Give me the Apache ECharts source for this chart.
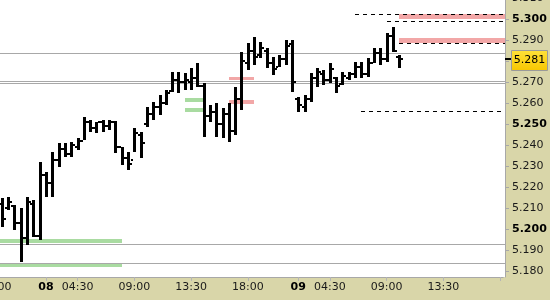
<!DOCTYPE html>
<html><head><meta charset="utf-8">
<script src="https://cdn.jsdelivr.net/npm/echarts@6/dist/echarts.min.js"></script>
<style>html,body{margin:0;padding:0;background:#fff}#c{width:550px;height:300px}</style>
</head><body><div id="c"></div>
<script>
// ---- data ----
const tickSlots  = [0, 8, 13, 22, 31, 40, 48, 53, 62, 71, 80];
const tickLabels = ['18:00','08','04:30','09:00','13:30','18:00','09','04:30','09:00','13:30',''];
const slotCount = 81; // slot 0 = previous day 18:00, bar j sits in slot j+1

const open  = [5.212,5.210,5.211,5.203,5.196,5.212,5.197,5.226,5.222,5.233,5.238,5.236,5.239,5.242,5.251,5.248,5.251,5.249,5.251,5.239,5.234,5.233,5.245,5.250,5.255,5.258,5.260,5.266,5.271,5.270,5.270,5.272,5.268,5.254,5.256,5.250,5.255,5.247,5.262,5.279,5.285,5.283,5.285,5.279,5.277,5.281,5.288,5.262,5.258,5.262,5.272,5.274,5.271,5.272,5.269,5.272,5.274,5.277,5.274,5.279,5.284,5.281,5.292,5.282];
const high  = [5.2149,5.2154,5.2116,5.2102,5.2154,5.2140,5.2320,5.2273,5.2368,5.2411,5.2411,5.2415,5.2434,5.2534,5.2520,5.2510,5.2520,5.2520,5.2515,5.2392,5.2368,5.2482,5.2463,5.2582,5.2606,5.2639,5.2663,5.2748,5.2748,5.2743,5.2767,5.2791,5.2696,5.2591,5.2601,5.2577,5.2601,5.2677,5.2843,5.2886,5.2914,5.2891,5.2862,5.2819,5.2829,5.2900,5.2900,5.2629,5.2639,5.2743,5.2767,5.2758,5.2791,5.2724,5.2748,5.2748,5.2796,5.2796,5.2815,5.2862,5.2862,5.2933,5.2962,5.2829];
const low   = [5.2011,5.2092,5.1997,5.1845,5.1926,5.1964,5.1950,5.2154,5.2154,5.2297,5.2344,5.2344,5.2377,5.2425,5.2463,5.2458,5.2463,5.2472,5.2363,5.2306,5.2282,5.2368,5.2339,5.2487,5.2520,5.2544,5.2591,5.2653,5.2648,5.2663,5.2663,5.2677,5.2439,5.2510,5.2439,5.2434,5.2415,5.2449,5.2567,5.2758,5.2781,5.2815,5.2767,5.2734,5.2772,5.2781,5.2653,5.2558,5.2558,5.2606,5.2677,5.2686,5.2696,5.2648,5.2686,5.2710,5.2720,5.2720,5.2724,5.2791,5.2781,5.2796,5.2843,5.2767];
const close = [5.205,5.213,5.203,5.196,5.213,5.197,5.226,5.222,5.233,5.238,5.236,5.240,5.242,5.251,5.248,5.251,5.249,5.251,5.239,5.234,5.231,5.246,5.241,5.255,5.258,5.260,5.265,5.271,5.270,5.271,5.272,5.268,5.254,5.256,5.250,5.255,5.247,5.262,5.280,5.285,5.282,5.286,5.279,5.276,5.281,5.287,5.270,5.259,5.262,5.272,5.275,5.271,5.276,5.268,5.273,5.274,5.277,5.274,5.279,5.284,5.281,5.292,5.285,5.281];

const solidLevels  = [5.2837, 5.2705, 5.2697, 5.1929, 5.1839];
// [start bar, level]  (lines run to the right edge)
const dashedLevels = [[56, 5.3022], [61, 5.2992], [63, 5.2887], [57, 5.2563]];
// [start bar (-1 = left edge), end bar (-1 = right edge), low, high]
const greenZones = [[-1, 19, 5.1934, 5.1954], [-1, 19, 5.1823, 5.1836], [29, 32, 5.2606, 5.2625], [29, 32, 5.2558, 5.2577]];
const redZones   = [[36, 40, 5.2709, 5.2724], [36, 40, 5.2596, 5.2615], [63, -1, 5.3000, 5.3024], [63, -1, 5.2887, 5.2910]];

const yMin = 5.1774, yMax = 5.3109;

// ---- build ----
const tickAt  = Array.from({length: slotCount}, (_, i) => tickSlots.indexOf(i) >= 0);
const labelAt = Array.from({length: slotCount}, (_, i) => { const t = tickSlots.indexOf(i); return t >= 0 ? tickLabels[t] : ''; });
const categories = labelAt.map((l, i) => l ? l + '#' + i : 's' + i);
const lastPrice = close[close.length - 1];
const axisShift = 1.8;

const allZones = greenZones.map(z => z.concat(['#a9dba1'])).concat(redZones.map(z => z.concat(['#f2a7a7'])));

function rightEdge(cs) { return cs.x + cs.width + axisShift; }
function xOf(api, cs, bar, isEnd) {
  if (bar < 0) return isEnd ? rightEdge(cs) : cs.x;
  return Math.round(api.coord([bar + 1, yMin])[0]);
}

const chart = echarts.init(document.getElementById('c'), null, {renderer: 'canvas'});
chart.setOption({
  animation: false,
  backgroundColor: '#ffffff',
  grid: {left: -7.6, right: 46.8, top: -4, bottom: 23, containLabel: false, outerBoundsMode: 'none'},
  graphic: [
    {type: 'rect', z: -1, shape: {x: 0, y: 277, width: 550, height: 23}, style: {fill: '#d9d6a9'}},
    {type: 'rect', z: 1, shape: {x: 505, y: 0, width: 45, height: 300}, style: {fill: '#d9d6a9'}}
  ],
  xAxis: {
    type: 'category', data: categories, boundaryGap: true, z: 0,
    axisLine: {show: true, lineStyle: {color: '#a8a8a8', width: 1}},
    axisTick: {show: true, alignWithLabel: true, length: 4, interval: (i) => tickAt[i], lineStyle: {color: '#b5b5b5'}},
    axisLabel: {
      interval: (i) => labelAt[i] !== '', margin: 5, fontFamily: 'DejaVu Sans', fontSize: 11, color: '#1a1a1a', hideOverlap: false,
      formatter: (v, i) => { const l = labelAt[i]; return l.indexOf(':') < 0 ? '{b|' + l + '}' : l; },
      rich: {b: {fontWeight: 'bold', fontFamily: 'DejaVu Sans', fontSize: 11, color: '#000'}}
    },
    splitLine: {show: false}
  },
  yAxis: {
    type: 'value', position: 'right', min: yMin, max: yMax, splitNumber: 13, offset: axisShift, z: 5,
    axisLine: {show: true, lineStyle: {color: '#a8a8a8'}},
    axisTick: {show: true, length: 4, lineStyle: {color: '#a8a8a8'}},
    splitLine: {show: false},
    axisLabel: {
      margin: 7, fontFamily: 'DejaVu Sans', fontSize: 11, color: '#1a1a1a', showMinLabel: false, showMaxLabel: false,
      formatter: (v) => { const s = v.toFixed(3); return Math.round(v * 1000) % 50 === 0 ? '{b|' + s + '}' : s; },
      rich: {b: {fontWeight: 'bold', fontFamily: 'DejaVu Sans', fontSize: 11, color: '#000'}}
    }
  },
  series: [
    {
      type: 'custom', z: 1, silent: true,
      data: allZones.map((z, i) => [i, z[2]]),
      renderItem: (params, api) => {
        const z = allZones[params.dataIndex], cs = params.coordSys;
        const x1 = xOf(api, cs, z[0], false), x2 = xOf(api, cs, z[1], true);
        const yT = api.coord([1, z[3]])[1], yB = api.coord([1, z[2]])[1];
        return {type: 'rect', shape: {x: x1, y: Math.round(yT), width: x2 - x1, height: Math.max(2, Math.round(yB - yT))}, style: {fill: z[4]}};
      }
    },
    {
      type: 'custom', z: 2, silent: true,
      data: solidLevels.map((v, i) => [i, v]),
      renderItem: (params, api) => {
        const cs = params.coordSys, y = Math.round(api.coord([1, solidLevels[params.dataIndex]])[1]) + 0.5;
        return {type: 'line', shape: {x1: cs.x, y1: y, x2: rightEdge(cs), y2: y}, style: {stroke: '#a8a8a8', lineWidth: 1}};
      }
    },
    {
      type: 'custom', z: 3, silent: true,
      data: dashedLevels.map((d, i) => [i, d[1]]),
      renderItem: (params, api) => {
        const d = dashedLevels[params.dataIndex], cs = params.coordSys;
        const x1 = xOf(api, cs, d[0], false);
        const y = Math.round(api.coord([1, d[1]])[1]) + 0.5;
        return {type: 'line', shape: {x1: x1, y1: y, x2: rightEdge(cs), y2: y}, style: {stroke: '#000', lineWidth: 1, lineDash: [4, 4]}};
      }
    },
    {
      type: 'custom', z: 4, silent: true,
      data: open.map((o, i) => [i + 1, o, high[i], low[i], close[i]]),
      encode: {x: 0, y: [1, 2, 3, 4]},
      renderItem: (params, api) => {
        const i = params.dataIndex, k = i + 1;
        const pH = api.coord([k, high[i]]), pL = api.coord([k, low[i]]);
        const yo = Math.round(api.coord([k, open[i]])[1]), yc = Math.round(api.coord([k, close[i]])[1]);
        const cx = Math.round(pH[0]), top = Math.round(pH[1]), bot = Math.round(pL[1]);
        return {type: 'group', children: [
          {type: 'rect', shape: {x: cx - 1, y: top, width: 3, height: Math.max(1, bot - top)}, style: {fill: '#000'}},
          {type: 'rect', shape: {x: cx - 3, y: yo - 1, width: 2, height: 2}, style: {fill: '#000'}},
          {type: 'rect', shape: {x: cx + 2, y: yc - 1, width: 2, height: 2}, style: {fill: '#000'}}
        ]};
      }
    },
    {
      type: 'custom', z: 8, silent: true, clip: false,
      data: [[slotCount - 1, lastPrice]],
      renderItem: (params, api) => {
        const cs = params.coordSys;
        const y = Math.round(api.coord([1, lastPrice])[1]);
        const x0 = Math.round(rightEdge(cs));
        return {type: 'group', children: [
          {type: 'rect', shape: {x: x0, y: y - 1, width: 6, height: 2}, style: {fill: '#000'}},
          {type: 'rect', shape: {x: x0 + 6.5, y: y - 8.5, width: 36, height: 20},
            style: {fill: {type: 'linear', x: 0, y: 0, x2: 0, y2: 1, colorStops: [{offset: 0, color: '#ffe23a'}, {offset: 1, color: '#f7c600'}]}, stroke: '#9a9a9a', lineWidth: 1}},
          {type: 'text', x: x0 + 24.5, y: y + 1.5, style: {text: lastPrice.toFixed(3), fill: '#000', font: '11px "DejaVu Sans"', align: 'center', verticalAlign: 'middle'}}
        ]};
      }
    }
  ]
});
</script></body></html>
